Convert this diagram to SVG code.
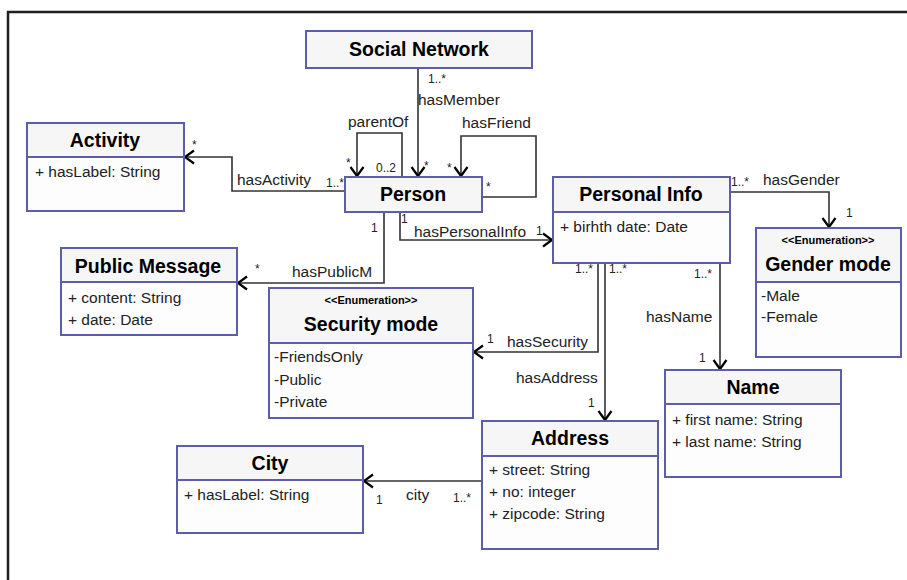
<svg xmlns="http://www.w3.org/2000/svg" width="907" height="580" viewBox="0 0 907 580">
<defs>
<style>
.box{fill:#fdfdfd;stroke:#5d5daa;stroke-width:2}
.hdr{fill:#f6f6f6;stroke:none}
.div{stroke:#5d5daa;stroke-width:2}
.t{font-family:"Liberation Sans",Arial,sans-serif;font-weight:bold;font-size:19.5px;fill:#000;text-anchor:middle}
.st{font-family:"Liberation Sans",Arial,sans-serif;font-weight:bold;font-size:11px;fill:#000;text-anchor:middle}
.a{font-family:"Liberation Sans",Arial,sans-serif;font-size:15.5px;fill:#222}
.l{font-family:"Liberation Sans",Arial,sans-serif;font-size:15.5px;fill:#222}
.m{font-family:"Liberation Sans",Arial,sans-serif;font-size:12px;fill:#222}
.c{fill:none;stroke:#333;stroke-width:1.6}
</style>
<marker id="arr" markerUnits="userSpaceOnUse" markerWidth="20" markerHeight="20" viewBox="-12 -10 14 20" refX="0" refY="0" orient="auto">
<path d="M-9,-6.5 L0,0 L-9,6.5" fill="none" stroke="#000" stroke-width="2.2"/>
</marker>
</defs>
<rect width="907" height="580" fill="#fff"/>
<path d="M8,580 V12 H907" fill="none" stroke="#231f20" stroke-width="2.5"/>

<g id="connectors">
<path class="c" d="M418,68 V176" marker-end="url(#arr)"/>
<path class="c" d="M402,177 V133 H357 V176" marker-end="url(#arr)"/>
<path class="c" d="M482,197 H536 V136 H461 V176" marker-end="url(#arr)"/>
<path class="c" d="M345,191 H232 V157 H185" marker-end="url(#arr)"/>
<path class="c" d="M384,212 V283 H238" marker-end="url(#arr)"/>
<path class="c" d="M400,212 V240 H552" marker-end="url(#arr)"/>
<path class="c" d="M598,263 V352 H474" marker-end="url(#arr)"/>
<path class="c" d="M605,263 V420" marker-end="url(#arr)"/>
<path class="c" d="M720,263 V369" marker-end="url(#arr)"/>
<path class="c" d="M730,192 H829 V227" marker-end="url(#arr)"/>
<path class="c" d="M482,481 H364" marker-end="url(#arr)"/>
</g>

<g id="labels">
<text class="m" x="428" y="83">1..*</text>
<text class="l" x="418" y="105">hasMember</text>
<text class="m" x="424" y="170">*</text>
<text class="l" x="348" y="127">parentOf</text>
<text class="m" x="346" y="167">*</text>
<text class="m" x="376" y="172">0..2</text>
<text class="l" x="462" y="128">hasFriend</text>
<text class="m" x="447" y="172">*</text>
<text class="m" x="486" y="191">*</text>
<text class="l" x="237" y="185">hasActivity</text>
<text class="m" x="326" y="187">1..*</text>
<text class="m" x="192" y="149">*</text>
<text class="m" x="371" y="232">1</text>
<text class="l" x="292" y="277">hasPublicM</text>
<text class="m" x="255" y="273">*</text>
<text class="m" x="401" y="223">1</text>
<text class="l" x="414" y="237">hasPersonalInfo</text>
<text class="m" x="536" y="235">1</text>
<text class="m" x="575" y="273">1..*</text>
<text class="m" x="609" y="273">1..*</text>
<text class="m" x="694" y="278">1..*</text>
<text class="l" x="646" y="322">hasName</text>
<text class="m" x="699" y="362">1</text>
<text class="l" x="507" y="347">hasSecurity</text>
<text class="m" x="487" y="343">1</text>
<text class="l" x="516" y="383">hasAddress</text>
<text class="m" x="588" y="407">1</text>
<text class="m" x="731" y="186">1..*</text>
<text class="l" x="763" y="185">hasGender</text>
<text class="m" x="846" y="217">1</text>
<text class="l" x="406" y="500">city</text>
<text class="m" x="453" y="502">1..*</text>
<text class="m" x="376" y="504">1</text>
</g>

<g id="social-network">
<rect class="box" x="306" y="31" width="226" height="37" style="fill:#f6f6f6"/>
<text class="t" x="419" y="56">Social Network</text>
</g>

<g id="person">
<rect class="box" x="345" y="177" width="137" height="35" style="fill:#f6f6f6"/>
<text class="t" x="413" y="201">Person</text>
</g>

<g id="activity">
<rect class="box" x="27" y="123" width="157" height="88"/>
<rect class="hdr" x="28" y="124" width="155" height="33"/>
<line class="div" x1="27" y1="157" x2="184" y2="157"/>
<text class="t" x="105" y="147">Activity</text>
<text class="a" x="35" y="177">+ hasLabel: String</text>
</g>

<g id="public-message">
<rect class="box" x="61" y="248" width="176" height="87"/>
<rect class="hdr" x="62" y="249" width="174" height="33"/>
<line class="div" x1="61" y1="282" x2="237" y2="282"/>
<text class="t" x="148" y="273">Public Message</text>
<text class="a" x="68" y="303">+ content: String</text>
<text class="a" x="68" y="325">+ date: Date</text>
</g>

<g id="security-mode">
<rect class="box" x="269" y="288" width="204" height="130"/>
<rect class="hdr" x="270" y="289" width="202" height="54"/>
<line class="div" x1="269" y1="343" x2="473" y2="343"/>
<text class="st" x="371" y="304">&lt;&lt;Enumeration&gt;&gt;</text>
<text class="t" x="371" y="331">Security mode</text>
<text class="a" x="274" y="362">-FriendsOnly</text>
<text class="a" x="274" y="385">-Public</text>
<text class="a" x="274" y="407">-Private</text>
</g>

<g id="personal-info">
<rect class="box" x="553" y="177" width="177" height="86"/>
<rect class="hdr" x="554" y="178" width="175" height="34"/>
<line class="div" x1="553" y1="212" x2="730" y2="212"/>
<text class="t" x="641" y="201">Personal Info</text>
<text class="a" x="560" y="232">+ birhth date: Date</text>
</g>

<g id="gender-mode">
<rect class="box" x="756" y="228" width="145" height="129"/>
<rect class="hdr" x="757" y="229" width="143" height="53"/>
<line class="div" x1="756" y1="282" x2="901" y2="282"/>
<text class="st" x="828" y="244">&lt;&lt;Enumeration&gt;&gt;</text>
<text class="t" x="828" y="271">Gender mode</text>
<text class="a" x="761" y="301">-Male</text>
<text class="a" x="761" y="322">-Female</text>
</g>

<g id="name">
<rect class="box" x="665" y="370" width="176" height="107"/>
<rect class="hdr" x="666" y="371" width="174" height="33"/>
<line class="div" x1="665" y1="404" x2="841" y2="404"/>
<text class="t" x="753" y="394">Name</text>
<text class="a" x="672" y="425">+ first name: String</text>
<text class="a" x="672" y="447">+ last name: String</text>
</g>

<g id="address">
<rect class="box" x="482" y="421" width="176" height="128"/>
<rect class="hdr" x="483" y="422" width="174" height="34"/>
<line class="div" x1="482" y1="456" x2="658" y2="456"/>
<text class="t" x="570" y="445">Address</text>
<text class="a" x="489" y="475">+ street: String</text>
<text class="a" x="489" y="497">+ no: integer</text>
<text class="a" x="489" y="519">+ zipcode: String</text>
</g>

<g id="city">
<rect class="box" x="177" y="446" width="186" height="87"/>
<rect class="hdr" x="178" y="447" width="184" height="33"/>
<line class="div" x1="177" y1="480" x2="363" y2="480"/>
<text class="t" x="270" y="470">City</text>
<text class="a" x="184" y="500">+ hasLabel: String</text>
</g>
</svg>
